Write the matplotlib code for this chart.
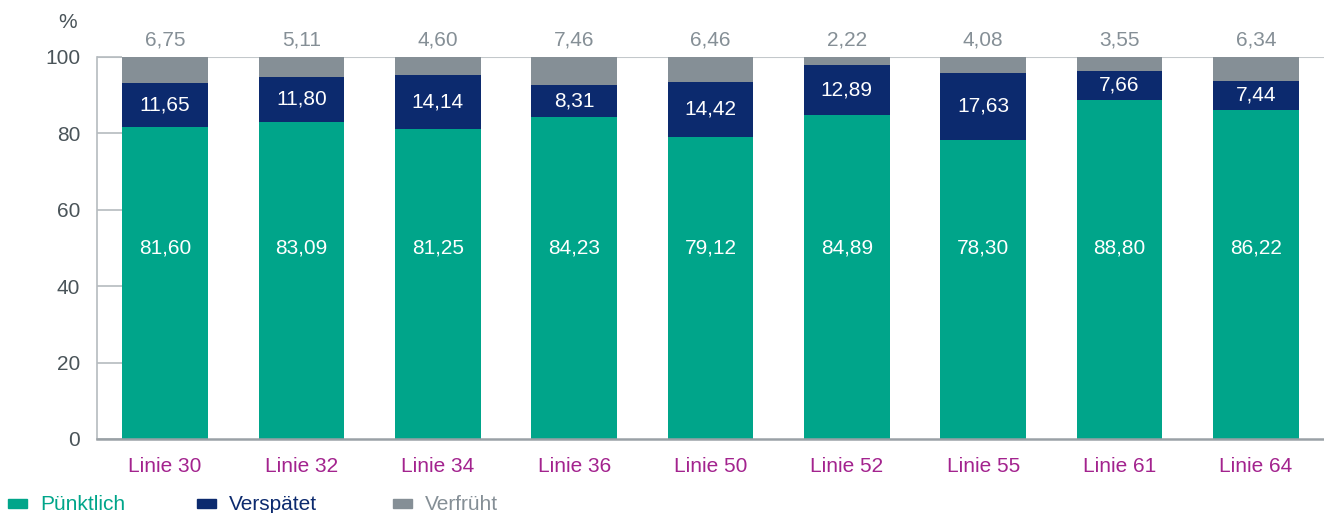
import matplotlib.pyplot as plt
import numpy as np
from matplotlib.patches import Rectangle

plt.rcParams['font.family'] = ['Liberation Sans', 'DejaVu Sans']

lines = ["Linie 30", "Linie 32", "Linie 34", "Linie 36", "Linie 50",
         "Linie 52", "Linie 55", "Linie 61", "Linie 64"]
puenktlich = [81.60, 83.09, 81.25, 84.23, 79.12, 84.89, 78.30, 88.80, 86.22]
verspaetet = [11.65, 11.80, 14.14, 8.31, 14.42, 12.89, 17.63, 7.66, 7.44]
verfrueht = [6.75, 5.11, 4.60, 7.46, 6.46, 2.22, 4.08, 3.55, 6.34]
series_names = ["Pünktlich", "Verspätet", "Verfrüht"]

GREEN = "#00a58a"
NAVY = "#0c2a6e"
GREY = "#858f96"
TXT = "#4a5459"
MAGENTA = "#a3238e"
FS = 15


def fmt(v):
    return f"{v:.2f}".replace(".", ",")


W, H = 1324, 513
fig = plt.figure(figsize=(W / 100, H / 100), dpi=100)
ax = fig.add_axes([97 / W, 1 - 439 / H, 1 - 97 / W, (439 - 57) / H])

x = np.arange(len(lines))
w = 0.63
p = np.array(puenktlich)
v = np.array(verspaetet)
f = np.array(verfrueht)
ax.bar(x, p, w, color=GREEN, zorder=2)
ax.bar(x, v, w, bottom=p, color=NAVY, zorder=2)
ax.bar(x, f, w, bottom=p + v, color=GREY, zorder=2)

for i in range(len(lines)):
    ax.text(x[i], 50, fmt(p[i]), ha="center", va="center", color="white", fontsize=FS)
    ax.text(x[i], p[i] + v[i] / 2, fmt(v[i]), ha="center", va="center",
            color="white", fontsize=FS)
    ax.text(x[i], 104.5, fmt(f[i]), ha="center", va="center", color=GREY,
            fontsize=FS, clip_on=False)

ax.set_xlim(-0.5, 8.5)
ax.set_ylim(0, 100)
ax.set_yticks([0, 20, 40, 60, 80, 100])
ax.set_xticks(x)
ax.set_xticklabels(lines, color=MAGENTA, fontsize=FS)
ax.tick_params(axis="y", direction="in", length=18, width=1.2, color="#b5bbbf",
               pad=12, labelcolor=TXT, labelsize=FS)
ax.tick_params(axis="x", length=0, pad=13)
ax.axhline(100, color="#c3c8cb", lw=1.5, zorder=1)
for s in ["top", "right"]:
    ax.spines[s].set_visible(False)
ax.spines["left"].set_color("#b5bbbf")
ax.spines["left"].set_linewidth(1.2)
ax.spines["bottom"].set_color("#9aa1a6")
ax.spines["bottom"].set_linewidth(1.8)
fig.text(68 / W, 1 - 22 / H, "%", ha="center", va="center", color=TXT, fontsize=FS)

# legend drawn by hand at the bottom left
for name, c, x0 in zip(series_names, (GREEN, NAVY, GREY), (8, 197, 393)):
    fig.patches.append(Rectangle((x0 / W, 1 - 508 / H), 19 / W, 9 / H,
                                 transform=fig.transFigure, color=c))
    fig.text((x0 + 32) / W, 1 - 504 / H, name, ha="left", va="center",
             color=c, fontsize=FS)

fig.savefig("out.png", dpi=100)
